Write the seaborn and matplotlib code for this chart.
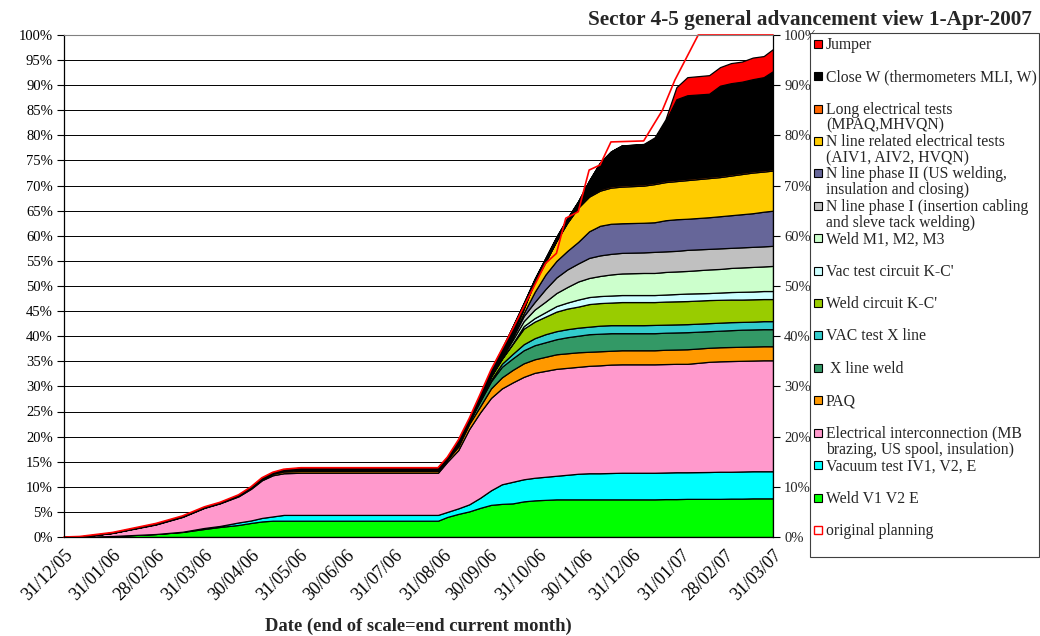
import numpy as np
import pandas as pd
import matplotlib
matplotlib.use('Agg')
import matplotlib.pyplot as plt
import matplotlib.dates as mdates
from matplotlib.patches import Rectangle
import seaborn as sns

# sampling dates of the progress curves
dates = pd.to_datetime([
    '2005-12-31', '2006-01-10', '2006-01-31', '2006-02-28', '2006-03-17', '2006-03-31',
    '2006-04-10', '2006-04-22', '2006-04-30', '2006-05-07', '2006-05-14', '2006-05-21',
    '2006-06-01', '2006-08-28', '2006-09-03', '2006-09-10', '2006-09-17', '2006-09-24',
    '2006-10-01', '2006-10-08', '2006-10-15', '2006-10-22', '2006-10-29', '2006-11-05',
    '2006-11-12', '2006-11-19', '2006-11-26', '2006-12-03', '2006-12-10', '2006-12-17',
    '2006-12-24', '2007-01-07', '2007-01-14', '2007-01-21', '2007-01-28', '2007-02-04',
    '2007-02-18', '2007-02-25', '2007-03-04', '2007-03-11', '2007-03-18', '2007-03-25',
    '2007-03-31'])

# cumulative level (top of each band, %)
early = [0, 0.05, 0.85, 2.6, 4.1, 5.9, 6.8, 8.3, 9.9, 11.7, 12.8, 13.3, 13.45, 13.45]

weld_v1_top = [0, 0, 0.2, 0.6, 1.0, 1.6, 2.0, 2.4, 2.8, 3.1, 3.25, 3.25, 3.25, 3.25,
               4.0, 4.6, 5.1, 5.8, 6.4, 6.6, 6.7, 7.1, 7.3,
               7.4, 7.5, 7.5, 7.5, 7.5, 7.5, 7.5, 7.5, 7.5, 7.5,
               7.55, 7.55, 7.6, 7.6, 7.6, 7.65, 7.65, 7.7, 7.7, 7.7]
vacuum_top = [0, 0, 0.2, 0.6, 1.05, 1.8, 2.2, 2.9, 3.3, 3.8, 4.1, 4.4, 4.4, 4.4,
              5.0, 5.7, 6.5, 7.8, 9.3, 10.5, 11.0, 11.5, 11.8,
              12.0, 12.2, 12.4, 12.6, 12.7, 12.7, 12.75, 12.8, 12.8, 12.8,
              12.85, 12.9, 12.9, 12.95, 13.0, 13.0, 13.05, 13.1, 13.1, 13.1]
interconn_top = [0, 0.05, 0.8, 2.5, 4.0, 5.8, 6.7, 8.1, 9.6, 11.3, 12.3, 12.7, 12.8, 12.8,
                 15.0, 17.3, 21.5, 24.8, 27.7, 29.6, 30.8, 31.9, 32.7,
                 33.1, 33.5, 33.7, 33.9, 34.1, 34.2, 34.35, 34.4, 34.4, 34.4,
                 34.45, 34.5, 34.5, 34.9, 35.0, 35.05, 35.1, 35.15, 35.2, 35.2]
paq_top = [0, 0.05, 0.85, 2.6, 4.1, 5.9, 6.8, 8.25, 9.8, 11.55, 12.6, 13.05, 13.15, 13.15,
           15.4, 18.0, 22.5, 26.0, 29.6, 31.8, 33.3, 34.6, 35.4,
           35.9, 36.4, 36.6, 36.8, 36.9, 37.0, 37.1, 37.2, 37.2, 37.2,
           37.3, 37.35, 37.4, 37.7, 37.8, 37.85, 37.9, 37.95, 38.0, 38.0]
xline_weld_top = early + [15.6, 18.4, 23.0, 27.0, 31.0, 33.9, 35.6, 37.2, 38.2,
                          38.8, 39.4, 39.8, 40.1, 40.4, 40.5, 40.6, 40.6, 40.6, 40.6,
                          40.7, 40.75, 40.8, 41.0, 41.1, 41.2, 41.3, 41.35, 41.4, 41.4]
vac_xline_top = early + [15.6, 18.4, 23.0, 27.2, 31.3, 34.5, 36.5, 38.4, 39.6,
                         40.4, 41.0, 41.4, 41.7, 41.9, 42.1, 42.2, 42.2, 42.2, 42.25,
                         42.3, 42.35, 42.4, 42.6, 42.7, 42.8, 42.85, 42.9, 43.0, 43.0]
weld_kc_top = early + [15.6, 18.4, 23.0, 27.5, 32.0, 35.5, 38.5, 41.5, 42.9,
                       43.9, 44.9, 45.5, 45.9, 46.4, 46.6, 46.7, 46.8, 46.8, 46.8,
                       46.9, 46.95, 47.0, 47.2, 47.25, 47.3, 47.3, 47.35, 47.4, 47.4]
vac_kc_top = early + [15.6, 18.4, 23.0, 27.5, 32.0, 35.5, 38.6, 42.0, 43.6,
                      44.8, 46.0, 46.7, 47.3, 47.8, 48.0, 48.1, 48.2, 48.2, 48.2,
                      48.3, 48.4, 48.5, 48.6, 48.7, 48.8, 48.85, 48.9, 49.0, 49.0]
weld_m_top = early + [15.6, 18.4, 23.0, 27.5, 32.0, 35.8, 39.3, 43.0, 45.3,
                      46.9, 48.6, 49.8, 50.9, 51.6, 52.0, 52.3, 52.5, 52.6, 52.6,
                      52.8, 52.9, 53.0, 53.3, 53.4, 53.6, 53.7, 53.8, 53.9, 54.0]
nline1_top = early + [15.6, 18.4, 23.0, 27.5, 32.0, 36.0, 39.8, 44.0, 46.8,
                      49.4, 51.7, 53.3, 54.5, 55.6, 56.1, 56.4, 56.6, 56.7, 56.8,
                      56.9, 57.0, 57.2, 57.4, 57.5, 57.6, 57.7, 57.8, 57.9, 58.0]
nline2_top = early + [15.6, 18.4, 23.0, 27.5, 32.0, 36.1, 40.0, 44.6, 48.8,
                      52.3, 55.0, 57.0, 58.8, 60.9, 62.0, 62.4, 62.5, 62.6, 62.7,
                      63.1, 63.3, 63.4, 63.7, 63.9, 64.1, 64.3, 64.5, 64.8, 65.0]
nline_elec_top = early + [15.6, 18.4, 23.0, 27.5, 32.0, 36.2, 40.5, 45.5, 50.9,
                          54.8, 59.0, 62.6, 65.6, 67.8, 69.0, 69.6, 69.8, 70.0, 70.3,
                          70.7, 70.9, 71.1, 71.5, 71.7, 72.0, 72.3, 72.6, 72.8, 73.0]
long_elec_top = early + [15.6, 18.4, 23.0, 27.5, 32.0, 36.2, 40.5, 45.5, 50.9,
                         54.8, 59.0, 62.7, 65.8, 68.1, 69.3, 69.9, 70.1, 70.3, 70.6,
                         71.0, 71.2, 71.4, 71.8, 72.0, 72.3, 72.6, 72.9, 73.1, 73.3]
close_w_top = [0, 0.1, 0.9, 2.7, 4.2, 6.0, 6.9, 8.4, 10.0, 11.8, 12.9, 13.5, 13.8, 13.8,
               15.9, 19.3, 23.6, 28.4, 33.3, 37.5, 42.0, 46.6, 51.4,
               55.6, 59.8, 63.5, 66.9, 71.0, 74.6, 76.8, 78.0, 78.2, 79.3,
               82.8, 87.2, 88.0, 88.3, 89.9, 90.4, 90.7, 91.2, 91.6, 92.8]
jumper_top = [0, 0.1, 0.9, 2.7, 4.2, 6.0, 6.9, 8.4, 10.0, 11.8, 12.9, 13.5, 13.8, 13.8,
              15.9, 19.3, 23.6, 28.4, 33.3, 37.5, 42.0, 46.6, 51.4,
              55.6, 59.8, 63.5, 66.9, 71.0, 74.6, 76.8, 78.0, 78.3, 79.6,
              83.2, 89.6, 91.6, 92.0, 93.6, 94.4, 94.7, 95.5, 95.8, 97.2]

plan_dates = pd.to_datetime([
    '2005-12-31', '2006-01-10', '2006-01-31', '2006-02-28', '2006-03-17', '2006-03-31',
    '2006-04-10', '2006-04-22', '2006-04-30', '2006-05-07', '2006-05-14', '2006-05-21',
    '2006-06-01', '2006-08-28', '2006-09-03', '2006-09-10', '2006-09-17', '2006-09-24',
    '2006-10-01', '2006-10-15', '2006-11-05', '2006-11-12', '2006-11-18', '2006-11-26',
    '2006-12-03', '2006-12-10', '2006-12-17', '2007-01-07', '2007-01-19', '2007-01-27',
    '2007-02-11', '2007-03-31'])
plan_values = [0, 0.1, 0.9, 2.7, 4.2, 6.0, 6.9, 8.4, 10.0, 11.8, 12.9, 13.5, 13.8, 13.8,
               15.9, 19.3, 23.6, 28.4, 33.3, 41.5, 54.5, 56.5, 63.5, 64.8, 73.1, 74.1,
               78.7, 78.9, 85.0, 91.0, 100, 100]

labels = ['Weld V1 V2 E', 'Vacuum test IV1, V2, E',
          'Electrical interconnection (MB\nbrazing, US spool, insulation)', 'PAQ',
          ' X line weld', 'VAC test X line', "Weld circuit K-C'", "Vac test circuit K-C'",
          'Weld M1, M2, M3', 'N line phase I (insertion cabling\nand sleve tack welding)',
          'N line phase II (US welding,\ninsulation and closing)',
          'N line related electrical tests\n(AIV1, AIV2, HVQN)',
          'Long electrical tests\n(MPAQ,MHVQN)', 'Close W (thermometers MLI, W)', 'Jumper']
colors = ['#00FF00', '#00FFFF', '#FF99CC', '#FF9900', '#339966', '#33CCCC', '#99CC00',
          '#CCFFFF', '#CCFFCC', '#C0C0C0', '#666699', '#FFCC00', '#FF6600', '#000000',
          '#FF0000']

tops = np.array([weld_v1_top, vacuum_top, interconn_top, paq_top, xline_weld_top,
                 vac_xline_top, weld_kc_top, vac_kc_top, weld_m_top, nline1_top,
                 nline2_top, nline_elec_top, long_elec_top, close_w_top, jumper_top])
layers = np.clip(np.diff(tops, axis=0, prepend=0), 0, None)

sns.set_theme(style='white')
plt.rcParams['font.family'] = ['Liberation Serif', 'DejaVu Serif']

W, H = 1040, 636
fig = plt.figure(figsize=(W / 100, H / 100), dpi=100)
ax = fig.add_axes([64 / W, 1 - 537 / H, 709 / W, 502 / H])

ax.stackplot(dates, layers, colors=colors, edgecolor='black', linewidth=0.9)
sns.lineplot(x=plan_dates, y=plan_values, ax=ax, color='red', linewidth=1.2)
for ln in ax.lines:
    ln.set_clip_on(False)

ax.set_xlim(pd.Timestamp('2005-12-31'), pd.Timestamp('2007-03-31'))
ax.set_ylim(0, 100)
ax.set_yticks(range(0, 101, 5))
ax.set_yticklabels([f'{v}%' for v in range(0, 101, 5)])
ax.yaxis.grid(True, color='black', linewidth=0.7)
ax.set_axisbelow(True)

month_ends = pd.date_range('2005-12-31', '2007-03-31', freq='ME')
ax.set_xticks(month_ends)
ax.xaxis.set_major_formatter(mdates.DateFormatter('%d/%m/%y'))
ax.tick_params(axis='both', direction='out', length=5, width=0.8, color='black',
               labelsize=10.5, pad=3, colors='black')
ax.tick_params(axis='x', labelsize=13, pad=2)
plt.setp(ax.get_xticklabels(), rotation=45, ha='right', va='top', rotation_mode='anchor')
ax.set_xlabel('')
ax.set_ylabel('')
for side in ['left', 'bottom', 'right']:
    ax.spines[side].set_color('black')
    ax.spines[side].set_linewidth(0.9)
ax.spines['top'].set_color('#808080')
ax.spines['top'].set_linewidth(0.8)
if ax.get_legend():
    ax.get_legend().remove()

ax2 = ax.twinx()
ax2.set_ylim(0, 100)
ax2.set_yticks(range(0, 101, 10))
ax2.set_yticklabels([f'{v}%' for v in range(0, 101, 10)])
ax2.tick_params(axis='y', direction='out', length=5, width=0.8, color='black',
                labelsize=10.5, pad=3)
for s in ax2.spines.values():
    s.set_visible(False)

fig.text(1032 / W, 1 - 25 / H, 'Sector 4-5 general advancement view 1-Apr-2007',
         ha='right', va='baseline', fontsize=15.3, fontweight='bold')
fig.text(418 / W, 1 - 626 / H, 'Date (end of scale=end current month)',
         ha='center', va='center', fontsize=13.4, fontweight='bold')

# legend box drawn like the original (first text line next to the swatch)
fig.patches.append(Rectangle((810 / W, 1 - 557 / H), 229 / W, 524 / H,
                             transform=fig.transFigure, facecolor='white',
                             edgecolor='#404040', linewidth=0.8, zorder=5))
entries = list(zip(labels, colors))[::-1] + [('original planning', None)]
for i, (lab, col) in enumerate(entries):
    yc = 43.7 + i * 32.42
    if col is None:
        sq = Rectangle((814 / W, 1 - (yc + 4) / H), 8 / W, 8 / H, transform=fig.transFigure,
                       facecolor='white', edgecolor='red', linewidth=1.0, zorder=6)
    else:
        sq = Rectangle((814 / W, 1 - (yc + 4) / H), 8 / W, 8 / H, transform=fig.transFigure,
                       facecolor=col, edgecolor='black', linewidth=0.8, zorder=6)
    fig.patches.append(sq)
    for j, line in enumerate(lab.split('\n')):
        fig.text(826 / W, 1 - (yc + 5 + j * 16) / H, line, ha='left', va='baseline',
                 fontsize=11.3, zorder=7)

fig.savefig('out.png', dpi=100)
